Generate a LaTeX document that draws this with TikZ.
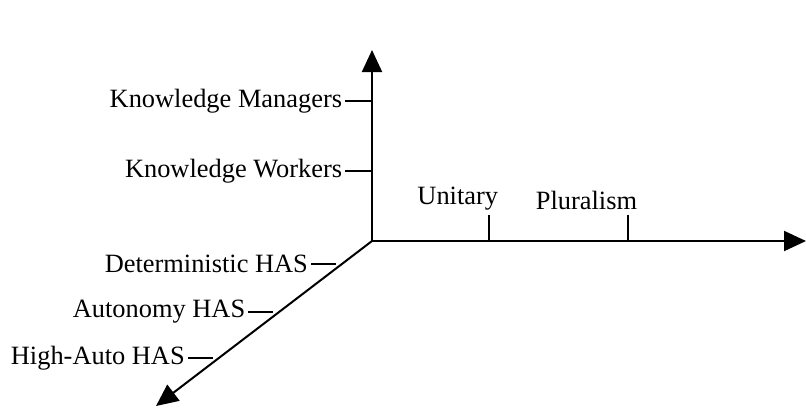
\documentclass[tikz,border=0pt]{standalone}
\usepackage{fontspec}
\setmainfont{Liberation Serif}
\usetikzlibrary{arrows.meta}
\tikzset{
  axis/.style={line width=1pt,-{Triangle[length=11pt,width=10pt]}},
  tick/.style={line width=0.9pt},
  lab/.style={inner sep=1pt,font=\fontsize{13.2}{16}\selectfont}
}
\begin{document}
\begin{tikzpicture}[x=0.5pt,y=-0.5pt]
 		\useasboundingbox (0,0) rectangle (806,408);
 		\coordinate (O) at (372,241);
 		\coordinate (top) at (372,50);
 		\coordinate (right) at (806,241);
 		\coordinate (down) at (156,406);
 		\draw[axis] (O) -- (top);
 		\draw[axis] (O) -- (right);
 		\draw[axis] (O) -- (down);
 		% vertical axis
 		\foreach \j [count=\xi]  in {Knowledge Workers, Knowledge Managers}
 				{\draw[tick] (372,241-70*\xi) -- ++(-27,0)
 				node[lab,anchor=east] (v\xi) {\j};}
 		% horizontal axis
 		\foreach \x/\j [count=\xi]  in {489/Unitary, 628/Pluralism}
 				{\draw[tick] (\x,241) -- ++(0,-26)
 				node[lab,anchor=south east,xshift=6pt,yshift=1pt] (h\xi) {\j};}
 		% diagonal axis
 		\path (O) -- (down) coordinate[pos=0.14] (d1) coordinate[pos=0.43] (d2) coordinate[pos=0.71] (d3);
 		\foreach \j [count=\xi]  in {Deterministic HAS, Autonomy HAS, High-Auto HAS}
 				{\draw[tick] ([xshift=-3pt]d\xi) -- ++(-25,0)
 				node[lab,anchor=east] (d\xi l) {\j};}
\end{tikzpicture}
\end{document}
